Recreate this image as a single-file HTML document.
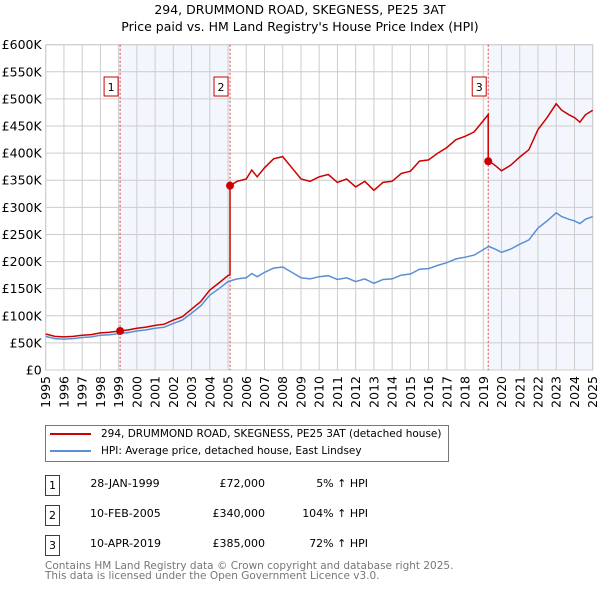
<!DOCTYPE html>
<html><head><meta charset="utf-8"><style>
body{margin:0;background:#fff;font-family:"DejaVu Sans","Liberation Sans",sans-serif;}
#wrap{position:relative;width:600px;height:590px;overflow:hidden;}
svg text{font-family:"DejaVu Sans","Liberation Sans",sans-serif;}
.ab{position:absolute;white-space:nowrap;font-size:10.5px;color:#000;}
</style></head><body>
<div id="wrap">
<svg id="c" width="600" height="420" style="position:absolute;left:0;top:0"></svg>
<div class="ab" style="left:45px;top:425px;width:402px;height:35px;border:1px solid #777;"></div>
<div class="ab" style="left:50px;top:428px;"><span style="display:inline-block;width:41px;height:2px;background:#cc0000;vertical-align:middle;margin-right:10px"></span>294, DRUMMOND ROAD, SKEGNESS, PE25 3AT (detached house)</div>
<div class="ab" style="left:50px;top:445px;"><span style="display:inline-block;width:41px;height:2px;background:#5b8fd4;vertical-align:middle;margin-right:10px"></span>HPI: Average price, detached house, East Lindsey</div>
<div id="tbl"></div>
<div class="ab" style="left:45px;top:561px;color:#777;font-size:10.5px;line-height:10px">Contains HM Land Registry data © Crown copyright and database right 2025.<br>This data is licensed under the Open Government Licence v3.0.</div>
</div>
<script>
const hpiYears=[1995,1995.5,1996,1996.5,1997,1997.5,1998,1998.5,1999,1999.5,2000,2000.5,2001,2001.5,2002,2002.5,2003,2003.5,2004,2004.5,2005,2005.5,2006,2006.3,2006.6,2007,2007.5,2008,2008.5,2009,2009.5,2010,2010.5,2011,2011.5,2012,2012.5,2013,2013.5,2014,2014.5,2015,2015.5,2016,2016.5,2017,2017.5,2018,2018.5,2019,2019.3,2019.7,2020,2020.5,2021,2021.5,2022,2022.5,2023,2023.3,2023.7,2024,2024.3,2024.6,2025];
const hpiValues=[62,58,57,58,60,61,64,65,67,69,72,74,77,79,86,92,105,118,138,150,163,168,170,178,172,180,188,190,180,170,168,172,174,167,170,163,168,160,167,168,175,177,186,187,193,198,205,208,212,222,228,222,217,223,232,240,262,275,290,283,278,275,270,278,283];
const saleLabels=["1","2","3"];
const saleDates=["28-JAN-1999","10-FEB-2005","10-APR-2019"];
const saleYears=[1999.08,2005.11,2019.27];
const salePrices=[72000,340000,385000];
const salePct=["5%","104%","72%"];
const yTicks=[0,50,100,150,200,250,300,350,400,450,500,550,600];
const xTicks=[1995,1996,1997,1998,1999,2000,2001,2002,2003,2004,2005,2006,2007,2008,2009,2010,2011,2012,2013,2014,2015,2016,2017,2018,2019,2020,2021,2022,2023,2024,2025];

const X0=45.7,X1=592.7,Y0=370,Y1=44.7;
const xs=y=>X0+(y-1995)/30*(X1-X0);
const ys=v=>Y0-v/600*(Y0-Y1);
const NS="http://www.w3.org/2000/svg";
const svg=document.getElementById('c');
function mk(t,a,p){const e=document.createElementNS(NS,t);for(const k in a)e.setAttribute(k,a[k]);(p||svg).appendChild(e);return e;}
function hpiAt(y){for(let i=0;i<hpiYears.length-1;i++){if(y<=hpiYears[i+1]){const f=(y-hpiYears[i])/(hpiYears[i+1]-hpiYears[i]);return hpiValues[i]+f*(hpiValues[i+1]-hpiValues[i]);}}return hpiValues[hpiValues.length-1];}

let t=mk('text',{x:300,y:14,'text-anchor':'middle','font-size':'12.5'});t.textContent="294, DRUMMOND ROAD, SKEGNESS, PE25 3AT";

t=mk('text',{x:300,y:31,'text-anchor':'middle','font-size':'12.5'});t.textContent="Price paid vs. HM Land Registry's House Price Index (HPI)";

[[saleYears[0],saleYears[1]],[saleYears[2],2025]].forEach((r,i)=>{const e=mk('rect',{x:xs(r[0]),y:Y1,width:xs(r[1])-xs(r[0]),height:Y0-Y1,fill:'#eef3fc',opacity:0.7});
});
yTicks.forEach(v=>{const l=mk('line',{x1:X0,x2:X1,y1:ys(v),y2:ys(v),stroke:'#cccccc','stroke-width':1});
const tx=mk('text',{x:X0-4,y:ys(v)+4.5,'text-anchor':'end','font-size':'12.5'});tx.textContent=v===0?'£0':'£'+v+'K';});
xTicks.forEach(y=>{const l=mk('line',{x1:xs(y),x2:xs(y),y1:Y1,y2:Y0,stroke:'#cccccc','stroke-width':1});
const tx=mk('text',{x:0,y:0,'text-anchor':'end','font-size':'12.5',transform:`translate(${xs(y)+4.5},${Y0+6}) rotate(-90)`});tx.textContent=y;});
mk('rect',{x:X0,y:Y1,width:X1-X0,height:Y0-Y1,fill:'none',stroke:'#cccccc'});
saleYears.forEach((y,i)=>{const l=mk('line',{x1:xs(y),x2:xs(y),y1:Y1,y2:Y0,stroke:'#e04040','stroke-width':1,'stroke-dasharray':'2,2'});
const b=mk('rect',{x:xs(y)-16,y:77,width:14,height:19,fill:'#fff',stroke:'#cc0000'});
const tx=mk('text',{x:xs(y)-9,y:91,'text-anchor':'middle','font-size':'11'});tx.textContent=saleLabels[i];});
let d='';hpiYears.forEach((y,i)=>{d+=(i?'L':'M')+xs(y).toFixed(1)+','+ys(hpiValues[i]).toFixed(1);});
let p=mk('path',{d:d,fill:'none',stroke:'#5b8fd4','stroke-width':1.5});
function factor(y){let f=salePrices[0]/1000/hpiAt(saleYears[0]);for(let i=0;i<saleYears.length;i++){if(y>=saleYears[i])f=salePrices[i]/1000/hpiAt(saleYears[i]);}return f;}
let pts=[];hpiYears.forEach((y,i)=>pts.push([y,hpiValues[i]]));saleYears.forEach(y=>pts.push([y,hpiAt(y)]));
saleYears.forEach(y=>pts.push([y-0.001,hpiAt(y-0.001)]));
pts.sort((a,b)=>a[0]-b[0]);
d='';pts.forEach((q,i)=>{d+=(i?'L':'M')+xs(q[0]).toFixed(1)+','+ys(q[1]*factor(q[0])).toFixed(1);});
p=mk('path',{d:d,fill:'none',stroke:'#cc0000','stroke-width':1.5});
saleYears.forEach((y,i)=>{const c=mk('circle',{cx:xs(y),cy:ys(salePrices[i]/1000),r:4,fill:'#cc0000'});});
const tbl=document.getElementById('tbl');
saleLabels.forEach((s,i)=>{const top=475+i*30;
let e=document.createElement('div');e.className='ab';e.style.cssText=`left:45px;top:${top}px;width:13px;height:19px;border:1px solid #cc0000;text-align:center;line-height:19px;font-size:11px`;e.textContent=s;
tbl.appendChild(e);
e=document.createElement('div');e.className='ab';e.style.cssText=`left:90px;top:${top+2}px;width:70px;text-align:center;font-size:11px`;e.textContent=saleDates[i];
tbl.appendChild(e);
e=document.createElement('div');e.className='ab';e.style.cssText=`left:165px;top:${top+2}px;width:100px;text-align:right;font-size:11px`;e.textContent='£'+salePrices[i].toLocaleString('en-GB');
tbl.appendChild(e);
e=document.createElement('div');e.className='ab';e.style.cssText=`left:268px;top:${top+2}px;width:100px;text-align:right;font-size:11px`;e.textContent=salePct[i]+' ↑ HPI';
tbl.appendChild(e);});
</script>
</body></html>
